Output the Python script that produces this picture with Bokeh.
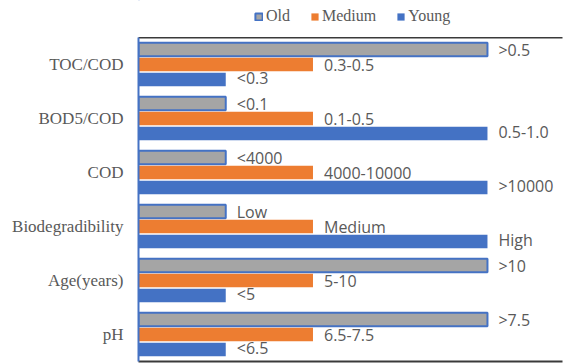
from bokeh.plotting import figure
from bokeh.models import Range1d, Legend, LegendItem, FixedTicker, ColumnDataSource, LinearAxis
from bokeh.layouts import column
from bokeh.core.properties import value
from bokeh.embed import file_html
from bokeh.resources import INLINE

categories = ["TOC/COD", "BOD5/COD", "COD", "Biodegradibility", "Age(years)", "pH"]
series = ["Old", "Medium", "Young"]
old_vals = [4, 1, 1, 1, 4, 4]
medium_vals = [2, 2, 2, 2, 2, 2]
young_vals = [1, 4, 4, 4, 1, 1]
old_labels = [">0.5", "<0.1", "<4000", "Low", ">10", ">7.5"]
medium_labels = ["0.3-0.5", "0.1-0.5", "4000-10000", "Medium", "5-10", "6.5-7.5"]
young_labels = ["<0.3", "0.5-1.0", ">10000", "High", "<5", "<6.5"]

GRAY = "#A5A5A5"
ORANGE = "#ED7D31"
BLUE = "#4472C4"
TXT = "#595959"
DARK = "#3a3a3a"

# ---- main chart ----
p = figure(width=564, height=326, output_backend="svg", toolbar_location=None,
           x_range=Range1d(0, 4.86), y_range=Range1d(6, 0),
           min_border_left=138, min_border_top=0, min_border_bottom=2, min_border_right=2)
p.grid.visible = False
p.outline_line_color = None
p.background_fill_color = "white"

centers = [i + 0.5 for i in range(len(categories))]
step = 0.28
h = 0.25

def src(vals, labels, off):
    return ColumnDataSource(dict(y=[c + off for c in centers], v=vals, lab=labels))

s_old = src(old_vals, old_labels, -step)
s_med = src(medium_vals, medium_labels, 0)
s_yng = src(young_vals, young_labels, step)

bar_styles = [dict(fill_color=GRAY, line_color=BLUE, line_width=2),
              dict(fill_color=ORANGE, line_color=None),
              dict(fill_color=BLUE, line_color=None)]

for s, st in zip((s_old, s_med, s_yng), bar_styles):
    p.hbar(y="y", right="v", left=0, height=h, source=s, **st)

for s, dy in ((s_old, 1), (s_med, 0), (s_yng, -2)):
    p.text(x="v", y="y", text="lab", source=s, x_offset=11, y_offset=dy,
           text_font=value("Open Sans"), text_font_size="16px", text_color=TXT,
           text_baseline="middle", text_align="left")

def frame_axis(ax):
    ax.ticker = FixedTicker(ticks=[])
    ax.axis_line_color = DARK
    ax.axis_line_width = 2
    ax.major_tick_line_color = None
    ax.minor_tick_line_color = None
    ax.major_label_standoff = 0
    ax.major_tick_out = 0
    ax.minor_tick_out = 0

frame_axis(p.xaxis[0])
top_axis = LinearAxis()
frame_axis(top_axis)
p.add_layout(top_axis, "above")

p.yaxis.ticker = FixedTicker(ticks=centers)
p.yaxis.major_label_overrides = {c: cat for c, cat in zip(centers, categories)}
p.yaxis.major_tick_line_color = None
p.yaxis.minor_tick_line_color = None
p.yaxis.major_tick_out = 0
p.yaxis.axis_line_color = BLUE
p.yaxis.axis_line_width = 2
p.yaxis.major_label_text_font = "Liberation Serif"
p.yaxis.major_label_text_font_size = "17px"
p.yaxis.major_label_text_color = TXT
p.yaxis.major_label_standoff = 15

# ---- legend strip (its frame is aligned with the chart's frame) ----
lf = figure(width=564, height=37, output_backend="svg", toolbar_location=None,
            x_range=Range1d(0, 1), y_range=Range1d(0, 1),
            min_border_left=0, min_border_right=0, min_border_top=0, min_border_bottom=0)
lf.axis.visible = False
lf.grid.visible = False
lf.outline_line_color = None
# zero-width key bars lying outside the strip's range, only to give the legend its swatches
key_src = ColumnDataSource(dict(y=[5], v=[0]))
lr = [lf.hbar(y="y", right="v", left=0, height=0.1, source=key_src, **st) for st in bar_styles]
legend = Legend(items=[LegendItem(label=n, renderers=[r]) for n, r in zip(series, lr)],
                orientation="horizontal", location=(116, 12),
                label_text_font="Liberation Serif", label_text_font_size="16px",
                label_text_color=TXT, glyph_width=9, glyph_height=9, label_standoff=3,
                spacing=20, padding=2, margin=0, border_line_color=None,
                background_fill_alpha=0)
lf.add_layout(legend, "center")

layout = column(lf, p, spacing=0)
open("out.html", "w").write(file_html(layout, INLINE))
